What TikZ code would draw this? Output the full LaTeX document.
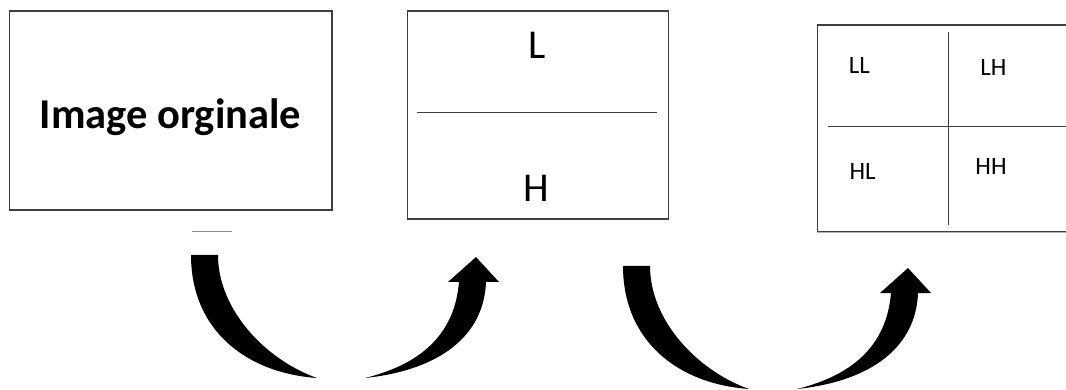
\documentclass[tikz,border=0pt]{standalone}
\usepackage{fontspec}
\setmainfont{Carlito}
\usetikzlibrary{positioning}
\tikzset{
  frame/.style={draw=black!75,line width=1.3pt,inner sep=0pt},
  divider/.style={draw=black!75,line width=1.3pt},
  bigtext/.style={font=\fontsize{42.5}{46}\selectfont\bfseries,anchor=base},
  band/.style={font=\fontsize{41}{44}\selectfont,anchor=base},
  subband/.style={font=\fontsize{25}{28}\selectfont,anchor=base},
  % thick curved arrow, drawn as two filled pieces
  bentarrow/.pic={
    \fill (0,0) -- (27,0) .. controls (27,55) and (75,105) .. (126,123)
      .. controls (55,118) and (0,75) .. (0,0) -- cycle;
    \fill (174,123) .. controls (250,115) and (293,80) .. (295,27)
      -- (308,27) -- (285,2) -- (257,27) -- (268,27)
      .. controls (264,75) and (235,108) .. (174,123) -- cycle;
  }
}

\begin{document}
\begin{tikzpicture}[x=1pt,y=-1pt]
  \useasboundingbox (0,0) rectangle (1066,390);

  % input image
  \node[frame,minimum width=322.7pt,minimum height=199pt] (orig) at (170.7,110.5) {};
  \node[bigtext] (origtxt) at (170.5,129) {Image orginale};

  % first level: L / H
  \node[frame,minimum width=261pt,minimum height=208pt] (lvl1) at (537.8,115) {};
  \draw[divider] ([xshift=10pt,yshift=2.7pt]lvl1.west) -- ([xshift=-11.6pt,yshift=2.7pt]lvl1.east);
  \node[band] (L) at (537.3,59) {L};
  \node[band] (H) at (536.7,202) {H};

  % second level: LL LH HL HH (right side runs off the page)
  \node[frame,minimum width=340pt,minimum height=206.7pt] (lvl2) at (987.3,128.3) {};
  \draw[black!30,line width=1.3pt] (lvl2.south west) -- (lvl2.south east);
  \draw[divider] (948.3,31.7) -- (948.3,225);
  \draw[divider] (828.3,126.7) -- (1080,126.7);
  \node[subband] (LL) at (859.3,73.3) {LL};
  \node[subband] (LH) at (993.3,76) {LH};
  \node[subband] (HL) at (862.7,180) {HL};
  \node[subband] (HH) at (991,175) {HH};

  \draw[black!45,line width=1pt] (191.7,231.7) -- (231.7,231.7);

  % transform arrows
  \pic at (191,255) {bentarrow};
  \pic at (623,266) {bentarrow};
\end{tikzpicture}
\end{document}
